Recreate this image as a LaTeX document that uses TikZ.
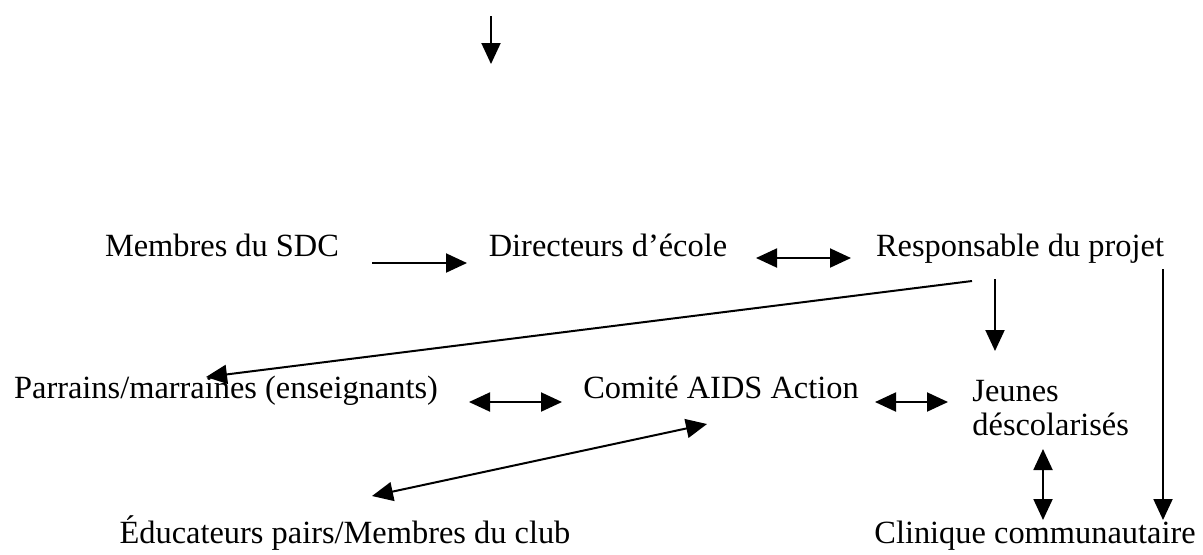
\documentclass[tikz,border=0pt]{standalone}
\usepackage{fontspec}
\setmainfont{Liberation Serif}
\usetikzlibrary{arrows.meta}
\tikzset{
  lbl/.style={font=\fontsize{16.2}{17}\selectfont, inner sep=0pt, anchor=base},
  conn/.style={line width=1pt, -{Triangle[length=10.5pt,width=9.5pt]}},
  dconn/.style={line width=1pt, {Triangle[length=10.5pt,width=9.5pt]}-{Triangle[length=10.5pt,width=9.5pt]}}
}
\begin{document}
\begin{tikzpicture}[x=0.5pt,y=-0.5pt]
\useasboundingbox (0,0) rectangle (1203,554);
% labels
\node[lbl] (sdc) at (222,256) {Membres du SDC};
\node[lbl] (dir) at (608,256) {Directeurs d’école};
\node[lbl] (resp) at (1020,256) {Responsable du projet};
\node[lbl] (parr) at (226,398) {Parrains/marraines (enseignants)};
\node[lbl] (comite) at (721,398) {Comité AIDS Action};
\node[lbl, anchor=base west, align=left] (jeunes) at (972,435) {Jeunes\\déscolarisés};
\node[lbl] (educ) at (345,543) {Éducateurs pairs/Membres du club};
\node[lbl] (clin) at (1035,543) {Clinique communautaire};
% connector end points
\coordinate (t1) at (491,16);   \coordinate (t2) at (491,64);
\coordinate (a1) at (372,263);  \coordinate (a2) at (467,263);
\coordinate (b1) at (756,258);  \coordinate (b2) at (851,258);
\coordinate (c1) at (972,281);  \coordinate (c2) at (206,377);
\coordinate (d1) at (995,279);  \coordinate (d2) at (995,351);
\coordinate (e1) at (1163,269); \coordinate (e2) at (1163,520);
\coordinate (f1) at (469,402);  \coordinate (f2) at (562,402);
\coordinate (g1) at (875,402);  \coordinate (g2) at (948,402);
\coordinate (h1) at (707,424);  \coordinate (h2) at (372,496);
\coordinate (k1) at (1043,449); \coordinate (k2) at (1043,520);
% connectors
\draw[conn] (t1) -- (t2);
\draw[conn] (a1) -- (a2);
\draw[dconn] (b1) -- (b2);
\draw[conn] (c1) -- (c2);
\draw[conn] (d1) -- (d2);
\draw[conn] (e1) -- (e2);
\draw[dconn] (f1) -- (f2);
\draw[dconn] (g1) -- (g2);
\draw[dconn] (h1) -- (h2);
\draw[dconn] (k1) -- (k2);
\end{tikzpicture}
\end{document}
